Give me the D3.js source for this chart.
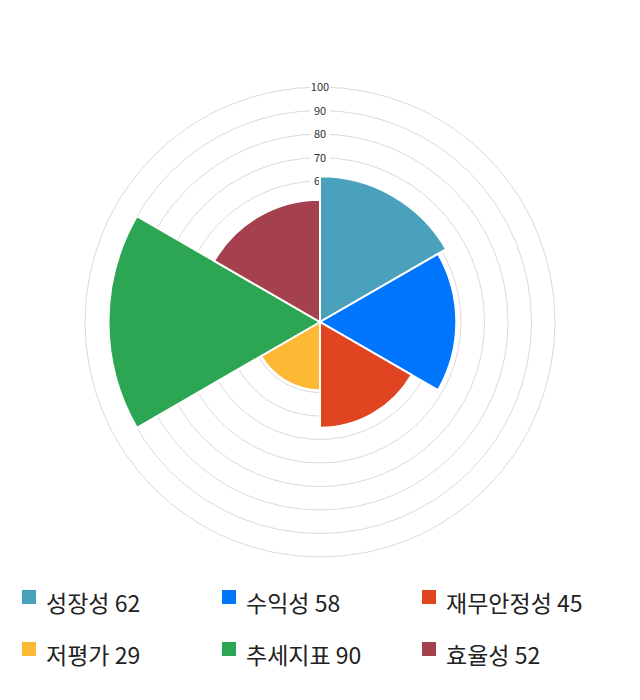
<!DOCTYPE html>
<meta charset="utf-8">
<html>
  <head>
    <script src="https://d3js.org/d3.v7.min.js"></script>
    <style>
      body{margin:0;background:#fff;}
      text{font-family:"Noto Sans CJK KR","Noto Sans",sans-serif;}
    </style>
  </head>
  <body>
    <div id="chart"></div>
  <script>
    var categories=["성장성","수익성","재무안정성","저평가","추세지표","효율성"];
    var values=[62,58,45,29,90,52];
    var colors=["#4aa1bb","#0076ff","#e04421","#fdb933","#2ca653","#a5404e"];
    var ticks=[10,20,30,40,50,60,70,80,90,100];

    var width=640,height=700,cx=320,cy=322,maxR=235;

    var svg=d3.select("#chart").append("svg")
      .attr("width",width).attr("height",height);

    var r=d3.scaleLinear().domain([0,100]).range([0,maxR]);

    //grid circles
    var gridG=svg.append("g").attr("transform","translate("+cx+","+cy+")");
    gridG.selectAll("circle").data(ticks).enter().append("circle")
      .attr("r",function(d){return r(d)})
      .attr("fill","none")
      .attr("stroke","#d9d9d9")
      .attr("stroke-width",1);

    //tick labels with white backdrop
    var lab=gridG.selectAll("g.tick").data(ticks).enter().append("g").attr("class","tick");
    lab.append("rect")
      .attr("x",-10).attr("y",function(d){return -r(d)-6})
      .attr("width",20).attr("height",12)
      .attr("fill","#fff");
    lab.append("text")
      .text(function(d){return d})
      .attr("x",0).attr("y",function(d){return -r(d)+4})
      .attr("text-anchor","middle")
      .style("font-size","11px")
      .attr("fill","#333");

    //wedges
    var n=values.length;
    var arc=d3.arc().innerRadius(0)
      .outerRadius(function(d){return r(d.v)})
      .startAngle(function(d){return d.i*2*Math.PI/n})
      .endAngle(function(d){return (d.i+1)*2*Math.PI/n});
    gridG.selectAll("path").data(values.map(function(v,i){return {v:v,i:i}})).enter().append("path")
      .attr("d",arc)
      .attr("fill",function(d){return colors[d.i]})
      .attr("stroke","#fff")
      .attr("stroke-width",2);

    //legend
    var legend=svg.append("g");
    var item=legend.selectAll("g").data(categories).enter().append("g")
      .attr("transform",function(d,i){return "translate("+(22+(i%3)*200)+","+(590+Math.floor(i/3)*52)+")"});
    item.append("rect")
      .attr("width",14).attr("height",14)
      .attr("fill",function(d,i){return colors[i]});
    item.append("text")
      .text(function(d,i){return d+" "+values[i]})
      .attr("x",24).attr("y",22)
      .style("font-size","23px")
      .attr("fill","#222");
  </script>
  </body>
</html>
